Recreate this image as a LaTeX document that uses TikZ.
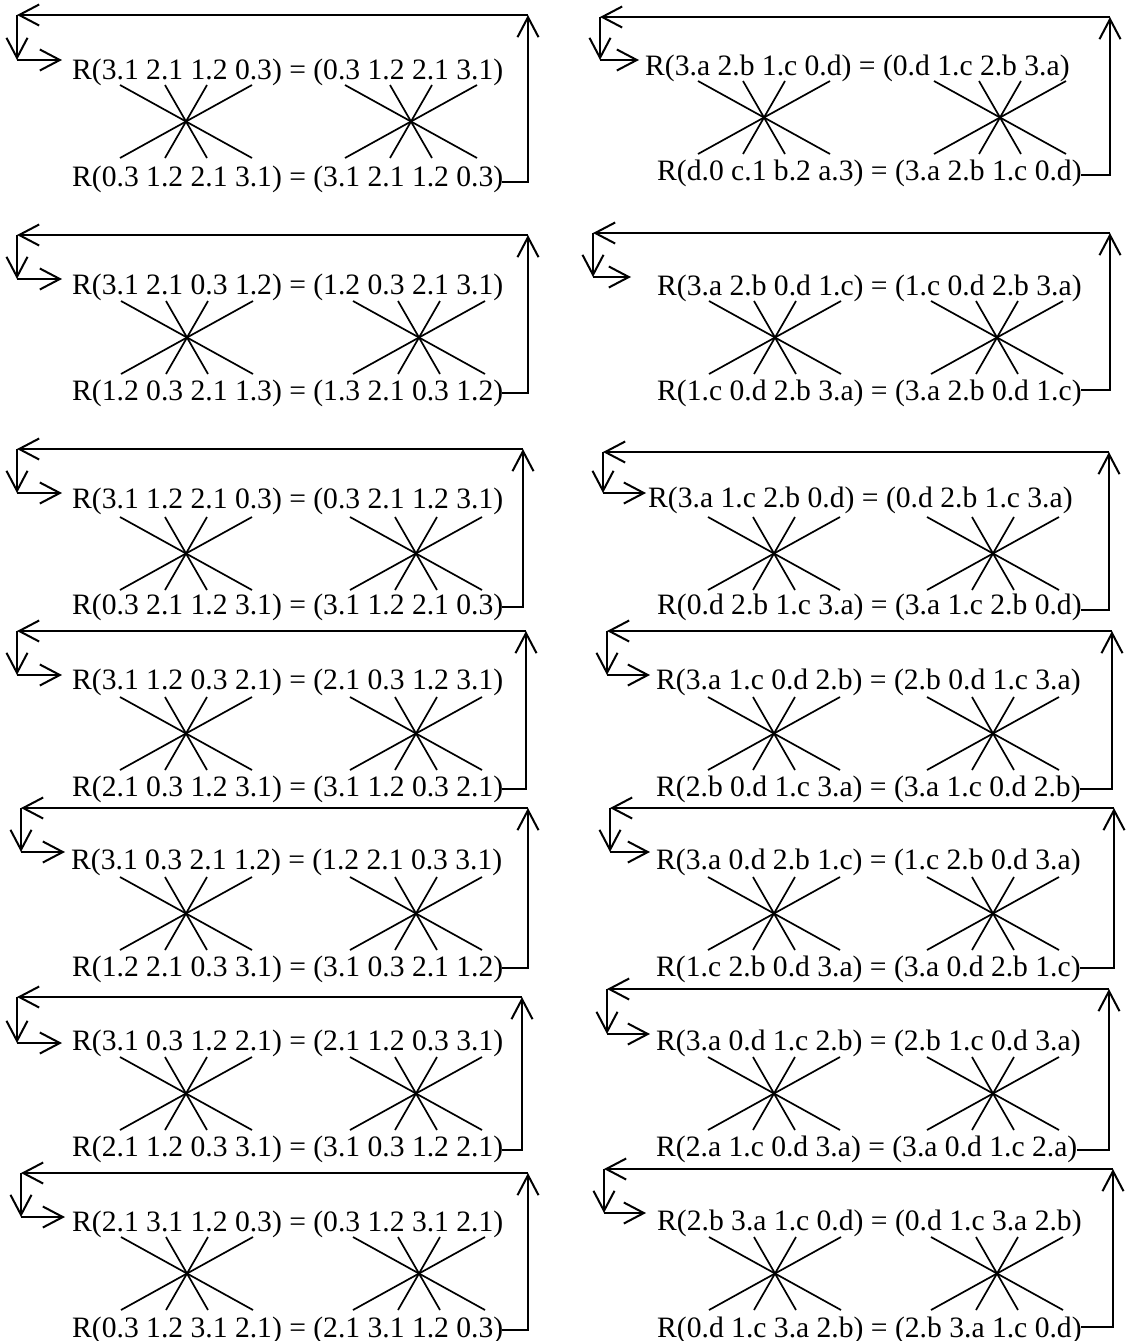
\documentclass[tikz,border=0pt]{standalone}
\usepackage{fontspec}
\setmainfont{Liberation Serif}
\usetikzlibrary{arrows.meta}
\tikzset{
  ln/.style={line width=2pt, line cap=rect},
  sl/.style={line width=1.7pt},
  arr/.style={line width=2pt, -{Straight Barb[length=20pt,width=21pt]}},
  txt/.style={inner sep=0pt, anchor=base west, font=\fontsize{29.6}{30}\selectfont},
}
\pgfkeys{/pn/.cd,
 T/.store in=\pT, D/.store in=\pD, XL/.store in=\pXL, XR/.store in=\pXR,
 RA/.store in=\pRA, tx/.store in=\ptx, tb/.store in=\ptb, bx/.store in=\pbx,
 bb/.store in=\pbb, yl/.store in=\pyl, cy/.store in=\pcy, ca/.store in=\pca,
 cb/.store in=\pcb, top/.store in=\ptop, bot/.store in=\pbot}
\newcommand\starx[2]{%
 \begin{scope}[shift={(#1,#2)}]
  \draw[sl] (-66,-36) -- (66,37);
  \draw[sl] (66,-36) -- (-66,37);
  \draw[sl] (-21,-36) -- (21,37);
  \draw[sl] (21,-36) -- (-21,37);
 \end{scope}}
\newcommand\drawpanel[2]{%
 \pgfkeys{/pn/.cd,#2}%
 \node[txt] (#1-top) at (\ptx,\ptb-3) {\ptop};
 \node[txt] (#1-bot) at (\pbx,\pbb) {\pbot};
 \coordinate (#1-ne) at (\pXR,\pT);
 \coordinate (#1-nw) at (\pXL,\pT);
 \coordinate (#1-sw) at (\pXL,\pD);
 \coordinate (#1-se) at (\pXR,\pyl);
 \coordinate (#1-ra) at (\pRA,\pD);
 \draw[ln] (#1-bot.east |- #1-se) -- (#1-se);
 \draw[arr] (#1-se) -- (#1-ne);
 \draw[arr] (#1-ne) -- (#1-nw);
 \draw[arr] (#1-nw) -- (#1-sw);
 \draw[arr] (#1-sw) -- (#1-ra);
 \starx{\pca}{\pcy}
 \starx{\pcb}{\pcy}
}
\begin{document}
\begin{tikzpicture}[x=1pt,y=-1pt]
\useasboundingbox (0,0) rectangle (1130,1341);
% left column
\drawpanel{L1}{T=15,D=60,XL=17,XR=528,RA=62,tx=72,tb=82,bx=72,bb=186,yl=182,cy=121,ca=186,cb=411,
 top={R(3.1 2.1 1.2 0.3) = (0.3 1.2 2.1 3.1)}, bot={R(0.3 1.2 2.1 3.1) = (3.1 2.1 1.2 0.3)}}
\drawpanel{L2}{T=235,D=279,XL=17,XR=528,RA=62,tx=72,tb=297,bx=72,bb=400,yl=393,cy=337,ca=187,cb=419,
 top={R(3.1 2.1 0.3 1.2) = (1.2 0.3 2.1 3.1)}, bot={R(1.2 0.3 2.1 1.3) = (1.3 2.1 0.3 1.2)}}
\drawpanel{L3}{T=449,D=493,XL=17,XR=523,RA=62,tx=72,tb=511,bx=72,bb=614,yl=607,cy=553,ca=186,cb=416,
 top={R(3.1 1.2 2.1 0.3) = (0.3 2.1 1.2 3.1)}, bot={R(0.3 2.1 1.2 3.1) = (3.1 1.2 2.1 0.3)}}
\drawpanel{L4}{T=631,D=675,XL=17,XR=526,RA=62,tx=72,tb=692,bx=72,bb=796,yl=789,cy=733,ca=186,cb=416,
 top={R(3.1 1.2 0.3 2.1) = (2.1 0.3 1.2 3.1)}, bot={R(2.1 0.3 1.2 3.1) = (3.1 1.2 0.3 2.1)}}
\drawpanel{L5}{T=808,D=852,XL=21,XR=528,RA=65,tx=71,tb=872,bx=72,bb=976,yl=968,cy=913,ca=186,cb=416,
 top={R(3.1 0.3 2.1 1.2) = (1.2 2.1 0.3 3.1)}, bot={R(1.2 2.1 0.3 3.1) = (3.1 0.3 2.1 1.2)}}
\drawpanel{L6}{T=997,D=1043,XL=17,XR=522,RA=62,tx=72,tb=1053,bx=72,bb=1156,yl=1150,cy=1093,ca=186,cb=416,
 top={R(3.1 0.3 1.2 2.1) = (2.1 1.2 0.3 3.1)}, bot={R(2.1 1.2 0.3 3.1) = (3.1 0.3 1.2 2.1)}}
\drawpanel{L7}{T=1173,D=1217,XL=21,XR=528,RA=65,tx=72,tb=1234,bx=72,bb=1337,yl=1330,cy=1273,ca=187,cb=419,
 top={R(2.1 3.1 1.2 0.3) = (0.3 1.2 3.1 2.1)}, bot={R(0.3 1.2 3.1 2.1) = (2.1 3.1 1.2 0.3)}}
% right column
\drawpanel{R1}{T=17,D=60,XL=600,XR=1110,RA=639,tx=645,tb=78,bx=657,bb=180,yl=175,cy=117,ca=764,cb=1000,
 top={R(3.a 2.b 1.c 0.d) = (0.d 1.c 2.b 3.a)}, bot={R(d.0 c.1 b.2 a.3) = (3.a 2.b 1.c 0.d)}}
\drawpanel{R2}{T=233,D=277,XL=593,XR=1110,RA=631,tx=657,tb=298,bx=657,bb=400,yl=390,cy=337,ca=775,cb=997,
 top={R(3.a 2.b 0.d 1.c) = (1.c 0.d 2.b 3.a)}, bot={R(1.c 0.d 2.b 3.a) = (3.a 2.b 0.d 1.c)}}
\drawpanel{R3}{T=452,D=493,XL=603,XR=1109,RA=646,tx=648,tb=510,bx=657,bb=614,yl=610,cy=553,ca=774,cb=993,
 top={R(3.a 1.c 2.b 0.d) = (0.d 2.b 1.c 3.a)}, bot={R(0.d 2.b 1.c 3.a) = (3.a 1.c 2.b 0.d)}}
\drawpanel{R4}{T=631,D=675,XL=607,XR=1112,RA=650,tx=656,tb=692,bx=656,bb=796,yl=789,cy=733,ca=774,cb=993,
 top={R(3.a 1.c 0.d 2.b) = (2.b 0.d 1.c 3.a)}, bot={R(2.b 0.d 1.c 3.a) = (3.a 1.c 0.d 2.b)}}
\drawpanel{R5}{T=808,D=852,XL=610,XR=1114,RA=650,tx=656,tb=872,bx=656,bb=976,yl=968,cy=913,ca=774,cb=993,
 top={R(3.a 0.d 2.b 1.c) = (1.c 2.b 0.d 3.a)}, bot={R(1.c 2.b 0.d 3.a) = (3.a 0.d 2.b 1.c)}}
\drawpanel{R6}{T=989,D=1034,XL=607,XR=1109,RA=650,tx=656,tb=1053,bx=656,bb=1156,yl=1150,cy=1093,ca=774,cb=993,
 top={R(3.a 0.d 1.c 2.b) = (2.b 1.c 0.d 3.a)}, bot={R(2.a 1.c 0.d 3.a) = (3.a 0.d 1.c 2.a)}}
\drawpanel{R7}{T=1169,D=1213,XL=604,XR=1113,RA=646,tx=657,tb=1233,bx=657,bb=1337,yl=1327,cy=1273,ca=775,cb=997,
 top={R(2.b 3.a 1.c 0.d) = (0.d 1.c 3.a 2.b)}, bot={R(0.d 1.c 3.a 2.b) = (2.b 3.a 1.c 0.d)}}
\end{tikzpicture}
\end{document}
